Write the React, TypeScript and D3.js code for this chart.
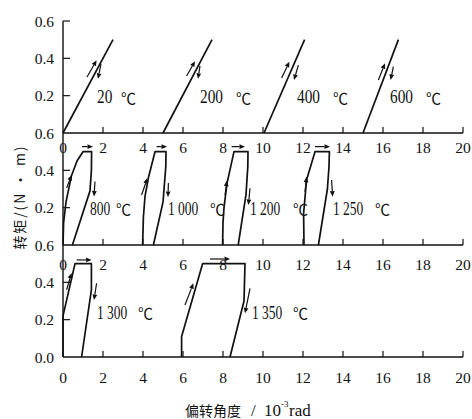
import React from "react";
import * as d3 from "d3";

type P = [number, number];

// ---------- data ----------
const xTickValues = [0, 2, 4, 6, 8, 10, 12, 14, 16, 18, 20];
const yTickValues = [[0.6, 0.4, 0.2, 0], [0.4, 0.2, 0], [0.4, 0.2, 0]];
const yTickLabels = [["0.6", "0.4", "0.2", "0.6"], ["0.4", "0.2", "0.6"], ["0.4", "0.2", "0.0"]];

const topTemps = ["20", "200", "400", "600"];
const topLines: P[][] = [
  [[0, 0], [2.5, 0.5]],
  [[5.0, 0], [7.45, 0.5]],
  [[10.05, 0], [12.08, 0.5]],
  [[15.0, 0], [16.77, 0.5]],
];

const midTemps = ["800", "1 000", "1 200", "1 250"];
const midLoops: P[][] = [
  [[0, 0], [0.03, 0.12], [0.15, 0.23], [0.42, 0.37], [0.7, 0.45], [1.0, 0.5], [1.43, 0.5], [1.42, 0.4], [1.35, 0.29], [0.47, 0]],
  [[3.98, 0], [4.02, 0.15], [4.1, 0.26], [4.27, 0.36], [4.6, 0.5], [5.15, 0.5], [5.14, 0.42], [5.0, 0.23], [4.52, 0]],
  [[7.98, 0], [8.0, 0.12], [8.05, 0.2], [8.2, 0.33], [8.55, 0.5], [9.25, 0.5], [9.24, 0.42], [9.15, 0.27], [8.76, 0]],
  [[12.05, 0], [12.03, 0.17], [12.18, 0.35], [12.6, 0.5], [13.32, 0.5], [13.3, 0.42], [13.22, 0.3], [12.77, 0]],
];

const botTemps = ["1 300", "1 350"];
const botLoops: P[][] = [
  [[0, 0], [0, 0.22], [0.6, 0.5], [1.42, 0.5], [1.42, 0.36], [0.93, 0]],
  [[5.93, 0], [5.93, 0.11], [6.98, 0.5], [9.1, 0.5], [9.05, 0.3], [8.35, 0]],
];

// label anchors (data units): [number x, ℃ x], label y
const topLabelX: P[] = [[1.7, 3.0], [6.85, 8.75], [11.7, 13.6], [16.35, 18.25]];
const midLabelX: P[] = [[1.35, 2.75], [5.25, 7.45], [9.35, 11.6], [13.5, 15.7]];
const botLabelX: P[] = [[1.7, 3.85], [9.45, 11.6]];
const labelY = [0.19, 0.193, 0.236];

// direction arrows (data units): [from, to]
const topArrows: P[][] = [
  [[1.2, 0.3], [1.68, 0.39]], [[1.9, 0.37], [1.75, 0.29]],
  [[6.18, 0.305], [6.6, 0.385]], [[6.85, 0.36], [6.75, 0.29]],
  [[10.93, 0.295], [11.32, 0.382]], [[11.77, 0.364], [11.55, 0.284]],
  [[15.77, 0.284], [16.1, 0.373]], [[16.52, 0.355], [16.38, 0.284]],
];
const midArrows: P[][] = [
  [[0.18, 0.305], [0.43, 0.375]], [[1.6, 0.34], [1.55, 0.26]], [[0.95, 0.527], [1.5, 0.527]],
  [[3.93, 0.268], [4.22, 0.359]], [[5.27, 0.332], [5.25, 0.257]], [[4.68, 0.527], [5.2, 0.527]],
  [[8.1, 0.268], [8.2, 0.345]], [[9.35, 0.304], [9.27, 0.214]], [[8.43, 0.527], [9.1, 0.527]],
  [[12.1, 0.285], [12.18, 0.366]], [[13.43, 0.348], [13.48, 0.259]], [[12.6, 0.527], [13.35, 0.527]],
];
const botArrows: P[][] = [
  [[0.18, 0.36], [0.43, 0.45]], [[1.68, 0.395], [1.55, 0.305]], [[0.68, 0.52], [1.43, 0.52]],
  [[6.1, 0.279], [6.52, 0.395]], [[9.35, 0.368], [9.1, 0.234]], [[7.35, 0.525], [8.35, 0.525]],
];

// ---------- layout ----------
const W = 472;
const H = 419;
const X = d3.scaleLinear().domain([0, 20]).range([63, 463]);
const bases = [133, 245, 357];
const panelH = 112;
const Ys = bases.map((b) => d3.scaleLinear().domain([0, 0.6]).range([b, b - panelH]));
const xLabelOffsets = [14, 19, 20];
const labelScale = [0.85, 0.75, 0.75];

const SERIF = "'Liberation Serif', 'Times New Roman', 'DejaVu Serif', serif";
const CJK = "'Noto Sans CJK SC', sans-serif";

function Arrow({ a, b, y }: { a: P; b: P; y: d3.ScaleLinear<number, number> }) {
  const x1 = X(a[0]), y1 = y(a[1]), x2 = X(b[0]), y2 = y(b[1]);
  const ang = Math.atan2(y2 - y1, x2 - x1);
  const L = 5.5, w = 2.4;
  const bx = x2 - L * Math.cos(ang), by = y2 - L * Math.sin(ang);
  const px = -Math.sin(ang) * w, py = Math.cos(ang) * w;
  return (
    <g>
      <line x1={x1} y1={y1} x2={bx} y2={by} stroke="#111" strokeWidth={1.2} />
      <polygon points={`${x2},${y2} ${bx + px},${by + py} ${bx - px},${by - py}`} fill="#111" />
    </g>
  );
}

function CText({ x, y, children, size = 18, sx = 0.75, family = SERIF }: any) {
  return (
    <text
      transform={`translate(${x},${y}) scale(${sx},1)`}
      fontSize={size}
      fontFamily={family}
      dominantBaseline="central"
      fill="#111"
    >
      {children}
    </text>
  );
}

export default function App() {
  const line = (y: d3.ScaleLinear<number, number>) =>
    d3.line<P>().x((d) => X(d[0])).y((d) => y(d[1]));

  const panels = [
    { curves: topLines, temps: topTemps, labels: topLabelX, arrows: topArrows },
    { curves: midLoops, temps: midTemps, labels: midLabelX, arrows: midArrows },
    { curves: botLoops, temps: botTemps, labels: botLabelX, arrows: botArrows },
  ];

  return (
    <svg width={W} height={H} style={{ display: "block", position: "absolute", left: 0, top: 0, background: "#fff" }}>
      <rect width={W} height={H} fill="#fff" />
      {/* y axis line */}
      <line x1={X(0)} x2={X(0)} y1={Ys[0](0.6)} y2={bases[2]} stroke="#111" strokeWidth={1.4} />
      {panels.map((p, i) => {
        const y = Ys[i];
        const lg = line(y);
        return (
          <g key={i}>
            {/* x axis */}
            <line x1={X(0)} x2={X(20)} y1={y(0)} y2={y(0)} stroke="#111" strokeWidth={1.4} />
            {xTickValues.map((t) => (
              <g key={t}>
                {t > 0 && <line x1={X(t)} x2={X(t)} y1={y(0)} y2={y(0) - 6} stroke="#111" strokeWidth={1.2} />}
                <text
                  x={X(t)}
                  y={y(0) + xLabelOffsets[i]}
                  fontSize={15.5}
                  fontFamily={SERIF}
                  textAnchor="middle"
                  dominantBaseline="central"
                  fill="#111"
                >
                  {t}
                </text>
              </g>
            ))}
            {/* y ticks */}
            {yTickValues[i].map((v, k) => (
              <g key={k}>
                {v > 0 && <line x1={X(0)} x2={X(0) + 7} y1={y(v)} y2={y(v)} stroke="#111" strokeWidth={1.2} />}
                {!(i > 0 && v === 0.6) && (
                  <text
                    x={54}
                    y={y(v)}
                    fontSize={15.5}
                    fontFamily={SERIF}
                    textAnchor="end"
                    dominantBaseline="central"
                    fill="#111"
                  >
                    {yTickLabels[i][k]}
                  </text>
                )}
              </g>
            ))}
            {/* curves */}
            {p.curves.map((c, k) => (
              <path key={k} d={lg(c) || ""} fill="none" stroke="#111" strokeWidth={1.7} strokeLinejoin="round" />
            ))}
            {/* arrows */}
            {p.arrows.map((a, k) => (
              <Arrow key={k} a={a[0]} b={a[1]} y={y} />
            ))}
            {/* labels */}
            {p.temps.map((t, k) => (
              <g key={k}>
                <CText x={X(p.labels[k][0])} y={y(labelY[i])} sx={labelScale[i]}>{t}</CText>
                <CText x={X(p.labels[k][1]) - 2} y={y(labelY[i])} size={15} sx={1} family={CJK}>℃</CText>
              </g>
            ))}
          </g>
        );
      })}
      {/* y axis title */}
      <text
        transform="translate(19,198) rotate(-90)"
        fontSize={14}
        fontFamily={CJK}
        textAnchor="middle"
        dominantBaseline="central"
        textLength={103}
        lengthAdjust="spacing"
        fill="#111"
      >
        转矩/(N · m)
      </text>
      {/* x axis title */}
      <text y={416} fontSize={17} fontFamily={SERIF} fill="#111">
        <tspan x={185} fontFamily={CJK} fontSize={14}>偏转角度</tspan>
        <tspan x={251}>/</tspan>
        <tspan x={264}>10</tspan>
        <tspan x={281} dy={-9} fontSize={9}>-3</tspan>
        <tspan x={289} dy={9}>rad</tspan>
      </text>
    </svg>
  );
}
